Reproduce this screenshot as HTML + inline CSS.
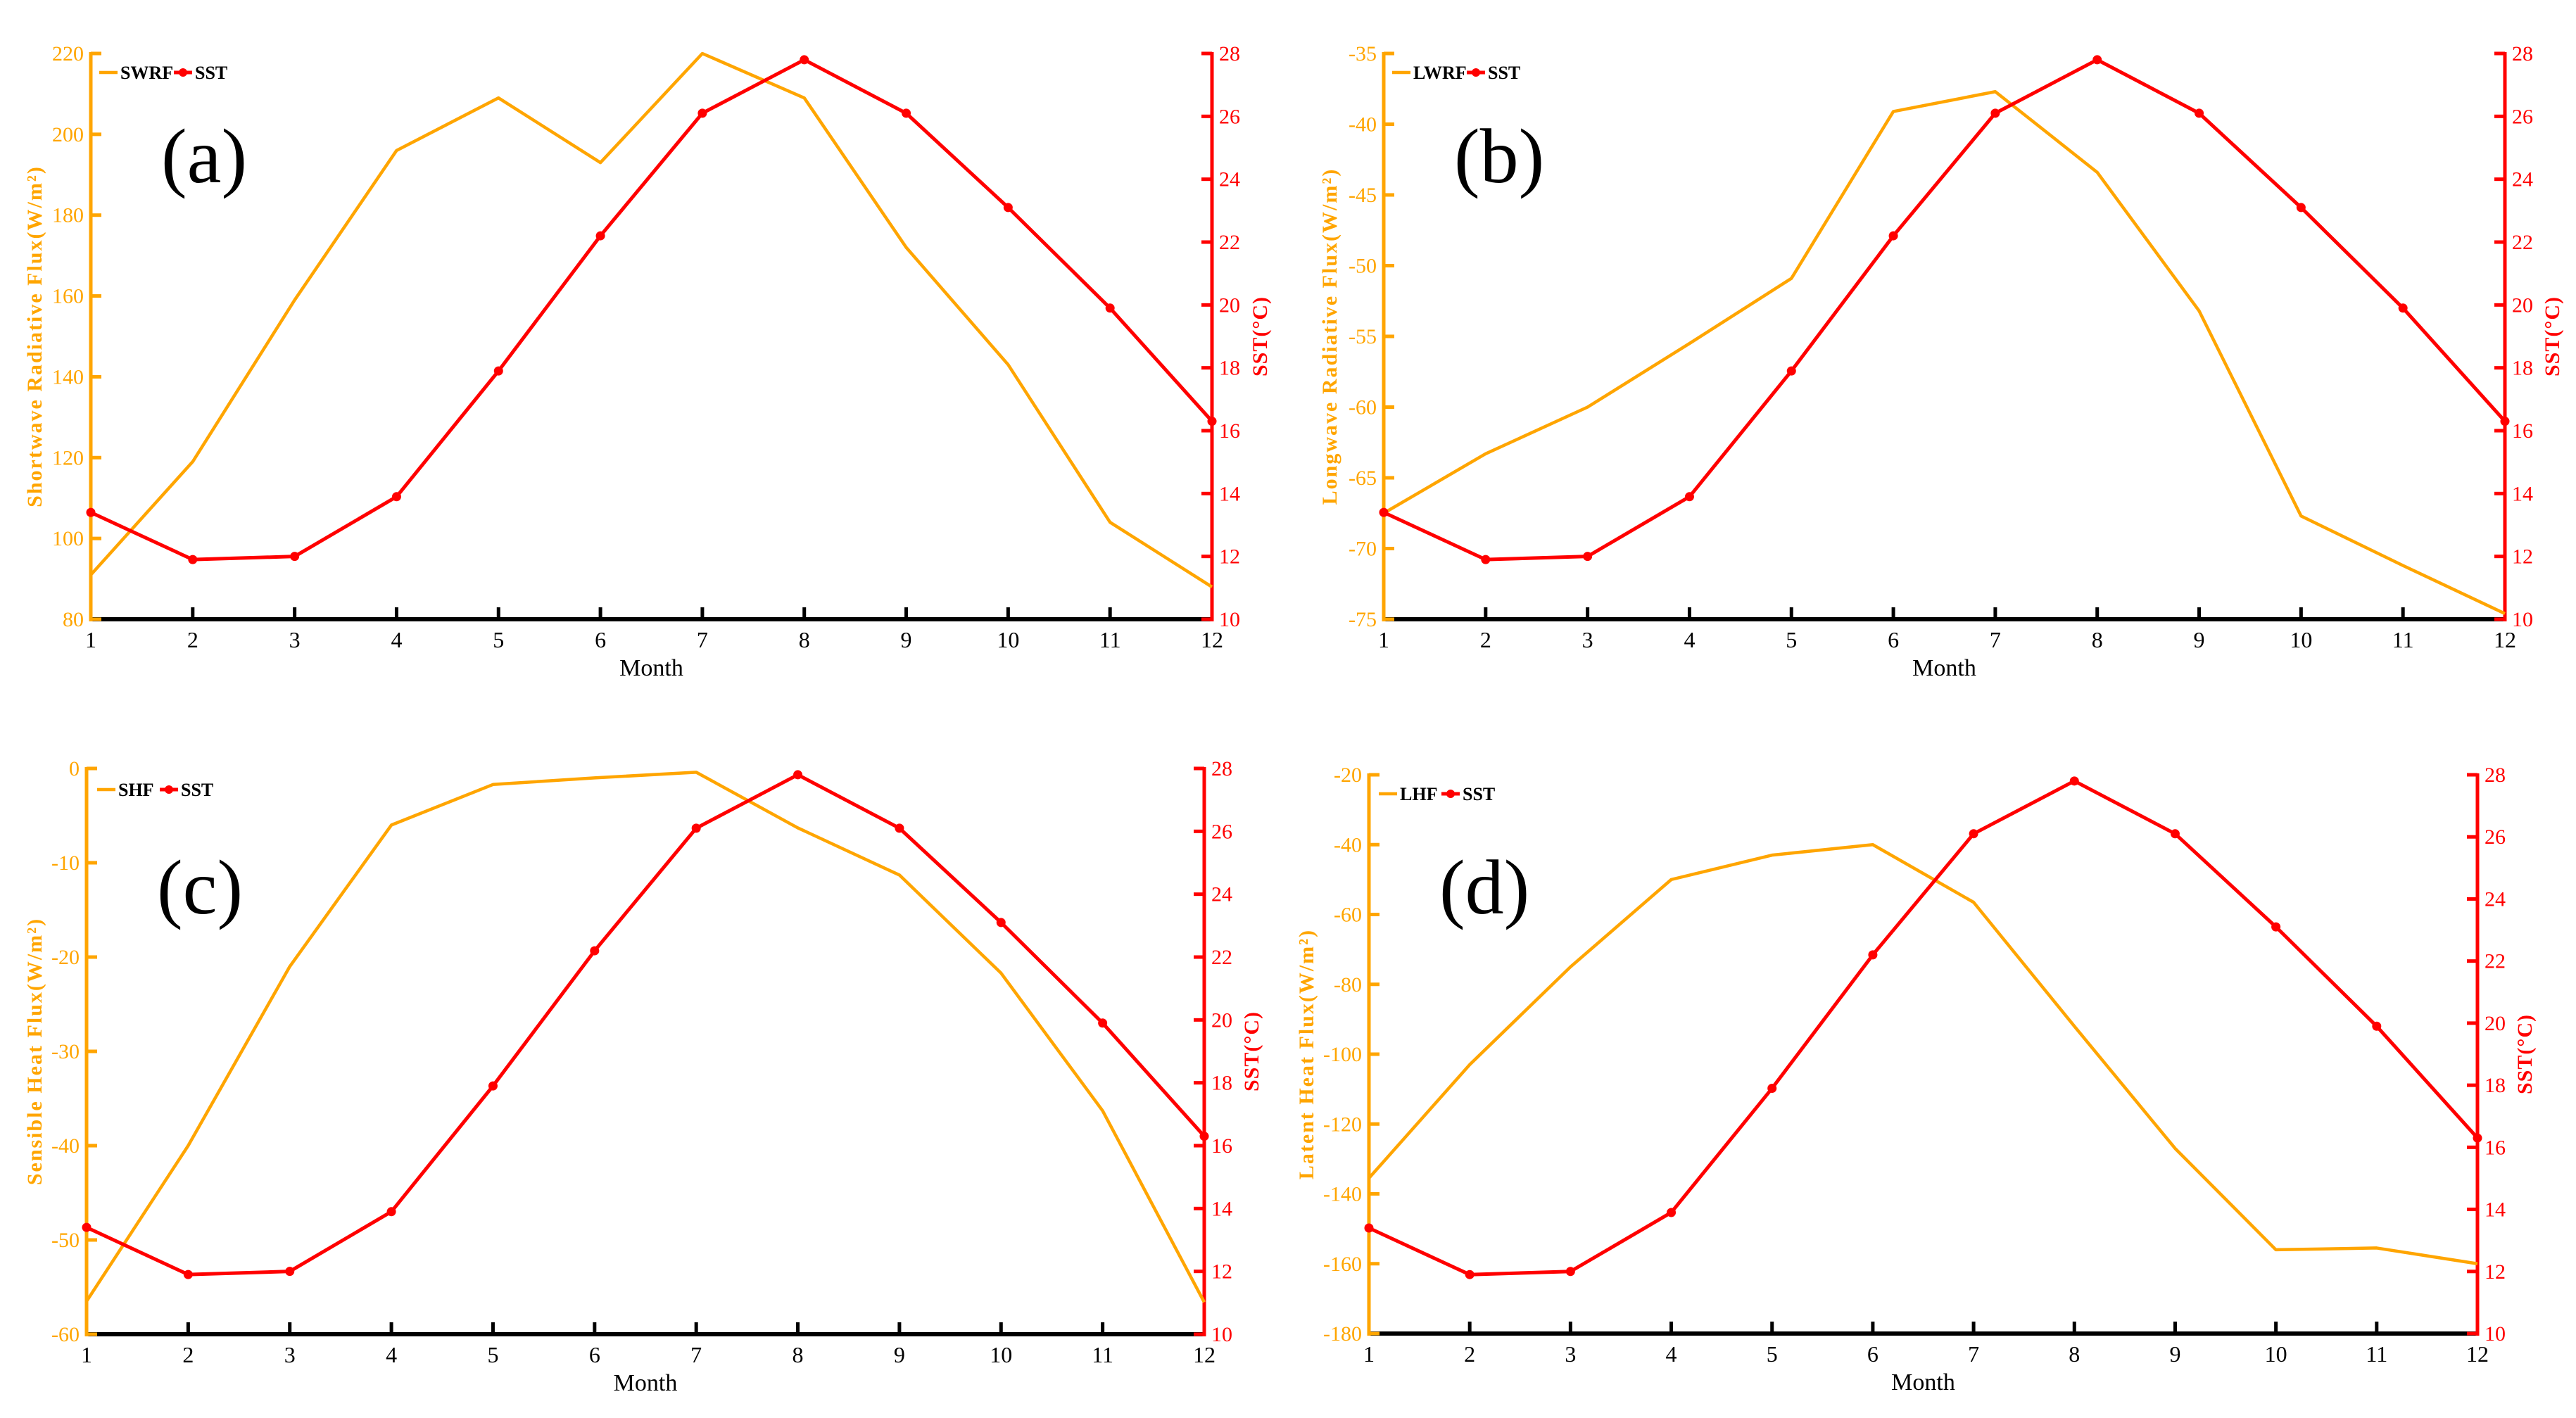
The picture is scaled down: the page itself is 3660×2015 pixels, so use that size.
<!DOCTYPE html>
<html><head><meta charset="utf-8">
<style>
html,body{margin:0;padding:0;background:#fff;}
svg{display:block;font-family:"Liberation Serif",serif;}
</style></head>
<body>
<svg id="fig" width="3660" height="2015" viewBox="0 0 3660 2015" xmlns="http://www.w3.org/2000/svg"></svg>
<script>
const months = [1,2,3,4,5,6,7,8,9,10,11,12];
const sstValues = [13.4, 11.9, 12.0, 13.9, 17.9, 22.2, 26.1, 27.8, 26.1, 23.1, 19.9, 16.3];
const swrfValues = [91, 119, 159, 196, 209, 193, 220, 209, 172, 143, 104, 88];
const lwrfValues = [-67.5, -63.3, -60, -55.5, -50.9, -39.1, -37.7, -43.4, -53.2, -67.7, -71.2, -74.6];
const shfValues = [-56.5, -40, -21, -6, -1.7, -1, -0.4, -6.3, -11.3, -21.7, -36.3, -56.6];
const lhfValues = [-135.5, -103, -75, -50, -43, -40, -56.5, -92, -127, -156, -155.5, -160];
const sstTicks = [10,12,14,16,18,20,22,24,26,28];
const swrfTicks = [80,100,120,140,160,180,200,220];
const lwrfTicks = [-75,-70,-65,-60,-55,-50,-45,-40,-35];
const shfTicks = [-60,-50,-40,-30,-20,-10,0];
const lhfTicks = [-180,-160,-140,-120,-100,-80,-60,-40,-20];

const ORANGE = '#FFA500', RED = '#FF0000';
const NS = 'http://www.w3.org/2000/svg';
const svg = document.getElementById('fig');
function mk(tag, attrs, parent, text){
  const e = document.createElementNS(NS, tag);
  for (const k in attrs) e.setAttribute(k, attrs[k]);
  if (text !== undefined) e.textContent = text;
  (parent||svg).appendChild(e);
  return e;
}

const panels = [
  {id:'a', L:129, R:1722, T:76, B:880, vals:swrfValues, ticks:swrfTicks, name:'SWRF', title:'Shortwave Radiative Flux(W/m²)', lblY:147, legY:27, legX:12, ytx:-80, rtx:68},
  {id:'b', L:1966, R:3559, T:76, B:880, vals:lwrfValues, ticks:lwrfTicks, name:'LWRF', title:'Longwave Radiative Flux(W/m²)', lblY:147, legY:27, legX:12, ytx:-77, rtx:67},
  {id:'c', L:123, R:1711, T:1092, B:1896, vals:shfValues, ticks:shfTicks, name:'SHF', title:'Sensible Heat Flux(W/m²)', lblY:170, legY:30, legX:15, ytx:-74, rtx:67},
  {id:'d', L:1945, R:3520, T:1101, B:1895, vals:lhfValues, ticks:lhfTicks, name:'LHF', title:'Latent Heat Flux(W/m²)', lblY:161, legY:27, legX:14, ytx:-89, rtx:67}
];

panels.forEach(p => {
  const g = mk('g', {});
  
  
  const lmin = p.ticks[0], lmax = p.ticks[p.ticks.length-1];
  const x = m => p.L + (m - 1) / 11 * (p.R - p.L);
  const yl = v => p.B - (v - lmin) / (lmax - lmin) * (p.B - p.T);
  const yr = v => p.B - (v - 10) / 18 * (p.B - p.T);

  // bottom axis
  const xa = mk('line', {x1:p.L, y1:p.B, x2:p.R, y2:p.B, stroke:'#000', 'stroke-width':6}, g);
  
  
  months.forEach(m => {
    if (m > 1 && m < 12) mk('line', {x1:x(m), y1:p.B, x2:x(m), y2:p.B-17, stroke:'#000', 'stroke-width':5}, g);
    const t = mk('text', {x:x(m), y:p.B+40, 'text-anchor':'middle', 'font-size':32, fill:'#000'}, g, String(m));
    
    
  });
  const xt = mk('text', {x:(p.L+p.R)/2, y:p.B+80, 'text-anchor':'middle', 'font-size':34, fill:'#000'}, g, 'Month');
  
  

  // left axis
  const la = mk('line', {x1:p.L, y1:p.T-2, x2:p.L, y2:p.B+3, stroke:ORANGE, 'stroke-width':5}, g);
  
  
  p.ticks.forEach(v => {
    mk('line', {x1:p.L, y1:yl(v), x2:p.L+15, y2:yl(v), stroke:ORANGE, 'stroke-width':5}, g);
    const t = mk('text', {x:p.L-10, y:yl(v)+10, 'text-anchor':'end', 'font-size':30, fill:ORANGE}, g, String(v));
    
    
  });
  const yt = mk('text', {x:0, y:0, transform:`translate(${p.L+p.ytx+10},${(p.T+p.B)/2}) rotate(-90)`, 'text-anchor':'middle', 'font-size':30, 'font-weight':'bold', 'letter-spacing':2, fill:ORANGE}, g, p.title);
  
  

  // right axis
  const ra = mk('line', {x1:p.R, y1:p.T-2, x2:p.R, y2:p.B+3, stroke:RED, 'stroke-width':5}, g);
  
  
  sstTicks.forEach(v => {
    mk('line', {x1:p.R, y1:yr(v), x2:p.R-15, y2:yr(v), stroke:RED, 'stroke-width':5}, g);
    const t = mk('text', {x:p.R+10, y:yr(v)+10, 'text-anchor':'start', 'font-size':30, fill:RED}, g, String(v));
    
    
  });
  const rt = mk('text', {x:0, y:0, transform:`translate(${p.R+p.rtx+10},${(p.T+p.B)/2}) rotate(-90)`, 'text-anchor':'middle', 'font-size':30, 'font-weight':'bold', 'letter-spacing':1, fill:RED}, g, 'SST(°C)');
  
  

  // flux line
  const fl = mk('polyline', {points:p.vals.map((v,i)=>x(months[i])+','+yl(v)).join(' '), fill:'none', stroke:ORANGE, 'stroke-width':4.5, 'stroke-linejoin':'round'}, g);
  
  
  // sst line
  const sl = mk('polyline', {points:sstValues.map((v,i)=>x(months[i])+','+yr(v)).join(' '), fill:'none', stroke:RED, 'stroke-width':5, 'stroke-linejoin':'round'}, g);
  
  
  sstValues.forEach((v,i) => {
    const c = mk('circle', {cx:x(months[i]), cy:yr(v), r:6.5, fill:RED}, g);
    
    
  });

  // panel label
  const pl = mk('text', {x:p.L+100, y:p.T+p.lblY+36, 'font-size':110, fill:'#000'}, g, '(' + p.id + ')');
  
  

  // legend
  const lg = mk('g', {}, g);
  
  
  const lx = p.L + p.legX, ly = p.T + p.legY;
  mk('line', {x1:lx, y1:ly, x2:lx+26, y2:ly, stroke:ORANGE, 'stroke-width':4.5}, lg);
  const t1 = mk('text', {x:lx+30, y:ly+9, 'font-size':26, 'font-weight':'bold', fill:'#000'}, lg, p.name);
  
  
  const w = p.name.length * 17 + 38;
  mk('line', {x1:lx+w, y1:ly, x2:lx+w+26, y2:ly, stroke:RED, 'stroke-width':5}, lg);
  mk('circle', {cx:lx+w+13, cy:ly, r:6, fill:RED}, lg);
  const t2 = mk('text', {x:lx+w+30, y:ly+9, 'font-size':26, 'font-weight':'bold', fill:'#000'}, lg, 'SST');
  
  
});
</script>
</body></html>
